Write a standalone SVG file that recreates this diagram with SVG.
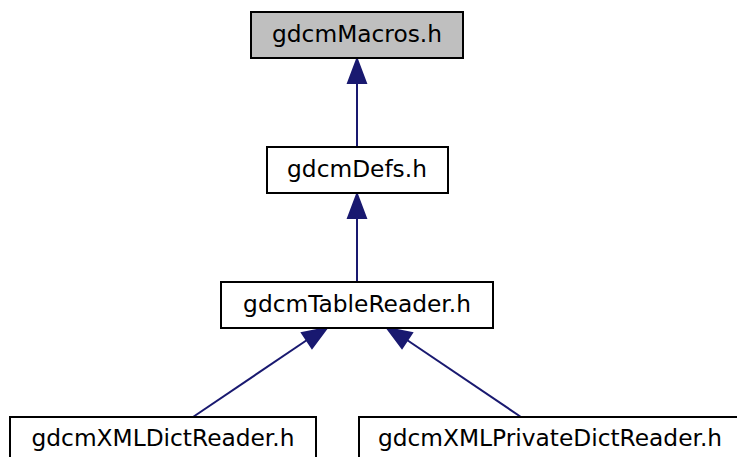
<svg xmlns="http://www.w3.org/2000/svg" width="737" height="457" viewBox="0 0 737 457">
<style>
.box{fill:#ffffff;stroke:#000000;stroke-width:2}
.cur{fill:#bfbfbf}
.lbl{font-family:"DejaVu Sans",sans-serif;font-size:23.3px;fill:#000000;text-anchor:middle}
.edge{fill:none;stroke:#191970;stroke-width:2}
.head{fill:#191970;stroke:#191970;stroke-width:2}
</style>
<rect width="737" height="457" fill="#ffffff"/>
<g id="connectors">
<path class="edge" d="M357,146 L357,83"/>
<polygon class="head" points="357,59 366,83 348,83"/>
<path class="edge" d="M357,282 L357,218"/>
<polygon class="head" points="357,194 366,218 348,218"/>
<path class="edge" d="M193,417 L307,340"/>
<polygon class="head" points="327,328 312,348 302,333"/>
<path class="edge" d="M521,417 L407,340"/>
<polygon class="head" points="387,328 412,333 402,348"/>
</g>
<g id="node-gdcmMacros">
<rect class="box cur" x="251" y="12" width="212" height="46"/>
<text class="lbl" x="357" y="42">gdcmMacros.h</text>
</g>
<g id="node-gdcmDefs">
<rect class="box" x="267" y="147" width="181" height="46"/>
<text class="lbl" x="357" y="177">gdcmDefs.h</text>
</g>
<g id="node-gdcmTableReader">
<rect class="box" x="221" y="282" width="272" height="46"/>
<text class="lbl" x="357" y="312">gdcmTableReader.h</text>
</g>
<g id="node-gdcmXMLDictReader">
<rect class="box" x="10" y="417" width="306" height="46"/>
<text class="lbl" x="163" y="446">gdcmXMLDictReader.h</text>
</g>
<g id="node-gdcmXMLPrivateDictReader">
<rect class="box" x="359" y="417" width="382" height="46"/>
<text class="lbl" x="550" y="446">gdcmXMLPrivateDictReader.h</text>
</g>
</svg>
